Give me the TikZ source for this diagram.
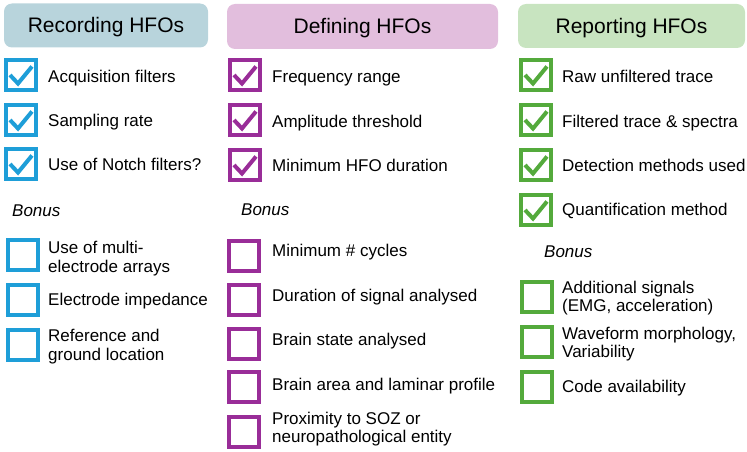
\documentclass[tikz,border=0pt]{standalone}
\usepackage{fontspec}
\setmainfont{Liberation Sans}

\definecolor{recfill}{HTML}{B8D4DC}
\definecolor{deffill}{HTML}{E2BEDD}
\definecolor{repfill}{HTML}{C8E4C0}
\definecolor{recline}{HTML}{1E9ED8}
\definecolor{defline}{HTML}{992D98}
\definecolor{repline}{HTML}{54AA3C}

\tikzset{
    header/.style={rounded corners=8pt, text height=15pt, text depth=0pt,
        font=\fontsize{21}{25}\selectfont},
    checkbox/.style={draw, line width=4pt, minimum size=30pt, inner sep=0pt},
    tick/.style={line width=4pt},
    item/.style={anchor=base west, inner sep=0pt, align=left,
        font=\fontsize{17}{18}\selectfont},
    bonus/.style={anchor=base west, inner sep=0pt,
        font=\fontsize{17}{18}\selectfont\itshape}
}

\begin{document}
\begin{tikzpicture}[x=1pt,y=-1pt]

\useasboundingbox (0,0) rectangle (747,452);

% Titres
\node[header, fill=recfill, minimum width=204pt, minimum height=44pt]
(rechead) at (106,25.5) {Recording HFOs};

\node[header, fill=deffill, minimum width=271pt, minimum height=45pt]
(defhead) at (362.5,26.5) {Defining HFOs};

\node[header, fill=repfill, minimum width=227pt, minimum height=44pt]
(rephead) at (631.5,26) {Reporting HFOs};

% Recording : cases cochées
\foreach \i/\y/\b/\t in {1/75/82/{Acquisition filters},
                         2/120/126/{Sampling rate},
                         3/164/170/{Use of Notch filters?}}
{
    \node[checkbox, recline] (rec\i) at (21,\y) {};
    \draw[tick, recline]
    ([shift={(-11,0)}]rec\i.center)
    --
    ([shift={(-3,8.5)}]rec\i.center)
    --
    ([shift={(11,-8.5)}]rec\i.center);
    \node[item] (rec\i t) at (48,\b) {\t};
}

\node[bonus] (recbonus) at (12,216) {Bonus};

% Recording : bonus (ligne de base = dernière ligne)
\foreach \i/\y/\b/\t in {4/255/272.5/{Use of multi-\\electrode arrays},
                         5/300/305/{Electrode impedance},
                         6/345/360.5/{Reference and\\ground location}}
{
    \node[checkbox, recline] (rec\i) at (23,\y) {};
    \node[item, font=\fontsize{17}{19.5}\selectfont] (rec\i t) at (48,\b) {\t};
}

% Defining : cases cochées
\foreach \i/\y/\b/\t in {1/75/82/{Frequency range},
                         2/120/127/{Amplitude threshold},
                         3/165/171/{Minimum HFO duration}}
{
    \node[checkbox, defline] (def\i) at (245,\y) {};
    \draw[tick, defline]
    ([shift={(-11,0)}]def\i.center)
    --
    ([shift={(-3,8.5)}]def\i.center)
    --
    ([shift={(11,-8.5)}]def\i.center);
    \node[item] (def\i t) at (272,\b) {\t};
}

\node[bonus] (defbonus) at (241,215) {Bonus};

% Defining : bonus
\foreach \i/\y/\b/\t in {4/255.5/256/{Minimum \# cycles},
                         5/299.5/301/{Duration of signal analysed},
                         6/343.5/345/{Brain state analysed},
                         7/387/390/{Brain area and laminar profile},
                         8/432/442/{Proximity to SOZ or\\neuropathological entity}}
{
    \node[checkbox, defline] (def\i) at (243.5,\y) {};
    \node[item] (def\i t) at (272,\b) {\t};
}

% Reporting : cases cochées
\foreach \i/\y/\b/\t in {1/75/82/{Raw unfiltered trace},
                         2/120/127/{Filtered trace \& spectra},
                         3/165/171/{Detection methods used},
                         4/210/215/{Quantification method}}
{
    \node[checkbox, repline] (rep\i) at (536,\y) {};
    \draw[tick, repline]
    ([shift={(-11,0)}]rep\i.center)
    --
    ([shift={(-3,8.5)}]rep\i.center)
    --
    ([shift={(11,-8.5)}]rep\i.center);
    \node[item] (rep\i t) at (562,\b) {\t};
}

\node[bonus] (repbonus) at (544,257) {Bonus};

% Reporting : bonus
\foreach \i/\y/\b/\t in {5/297/311/{Additional signals\\(EMG, acceleration)},
                         6/341.5/357/{Waveform morphology,\\Variability},
                         7/386.5/392/{Code availability}}
{
    \node[checkbox, repline] (rep\i) at (536.5,\y) {};
    \node[item] (rep\i t) at (562,\b) {\t};
}

\end{tikzpicture}
\end{document}
